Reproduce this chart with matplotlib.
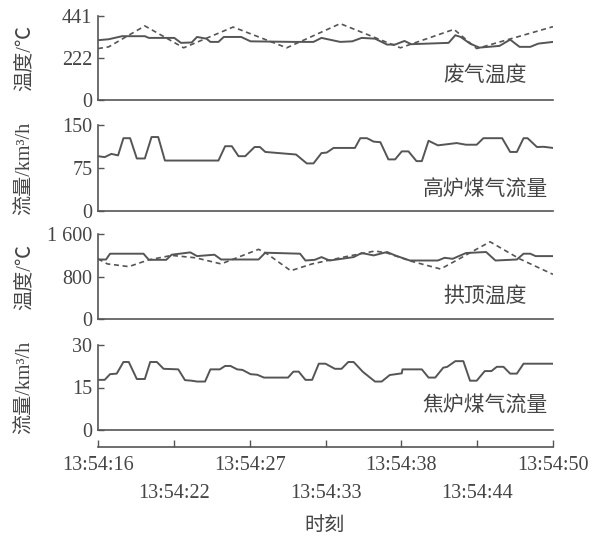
import matplotlib
matplotlib.use("Agg")
import matplotlib.pyplot as plt
import numpy as np
from matplotlib.transforms import blended_transform_factory

# time axis (seconds after 13:54:16) and tick labels
time_labels = ["13:54:16", "13:54:22", "13:54:27", "13:54:33", "13:54:38", "13:54:44", "13:54:50"]
t_end = 34.0

# 废气温度: measured (solid) and model (dashed)
waste_t = [0, 0.8, 1.8, 3.5, 3.8, 5.7, 6.2, 7.0, 7.4, 8.1, 8.4, 9.0, 9.4, 10.7, 11.4, 14.7,
           16.1, 16.7, 18.1, 19.0, 19.7, 20.7, 21.6, 22.2, 22.9, 23.4, 26.2, 26.7, 27.1, 27.8,
           28.5, 30.0, 30.8, 31.5, 32.3, 32.9, 34.0]
waste_v = [314, 319, 335, 335, 326, 326, 300, 302, 331, 322, 305, 305, 331, 331, 308, 305,
           305, 326, 305, 308, 326, 322, 291, 291, 310, 293, 300, 340, 331, 296,
           275, 284, 317, 279, 279, 296, 305]
waste_pred_t = [0, 0.8, 3.5, 6.4, 10.1, 14.1, 18.1, 22.6, 26.6, 28.3, 34.0]
waste_pred_v = [270, 279, 389, 274, 383, 274, 401, 274, 371, 270, 385]

# 高炉煤气流量
bfg_t = [0, 0.5, 1.0, 1.5, 1.9, 2.4, 2.9, 3.5, 4.0, 4.5, 5.0, 9.0, 9.5, 10.0, 10.5, 11.0,
         11.7, 12.1, 12.5, 14.8, 15.6, 16.1, 16.7, 17.1, 17.6, 19.2, 19.6, 20.1, 20.6, 21.1,
         21.7, 22.2, 22.7, 23.2, 23.8, 24.2, 24.7, 25.4, 26.8, 27.5, 28.3, 28.8, 30.2, 30.8,
         31.3, 31.8, 32.1, 32.8, 33.3, 34.0]
bfg_v = [95.6, 94, 99.6, 97, 127, 127, 91.6, 91.6, 129, 129, 88, 88, 113, 113, 95.6, 95.6,
         111.6, 111.6, 103, 98.5, 83, 83, 101, 102, 110, 110, 127, 127, 121, 120,
         90, 90, 104, 104, 87, 87, 122.5, 114.5, 118.5, 115.6, 115.6, 127, 127, 103,
         103, 127, 127, 111.6, 112, 110]

# 拱顶温度: measured (solid) and model (dashed)
dome_t = [0, 0.6, 0.9, 3.4, 3.8, 5.1, 5.5, 6.9, 7.4, 8.7, 9.2, 12.0, 12.5, 15.1, 15.5, 16.2,
          16.7, 17.3, 19.1, 19.7, 20.6, 21.6, 22.2, 23.3, 25.4, 25.9, 26.5, 27.5, 29.0, 29.7,
          31.3, 31.8, 32.3, 32.7, 34.0]
dome_v = [1120, 1120, 1229, 1229, 1114, 1114, 1210, 1254, 1184, 1210, 1120, 1120, 1248, 1229,
          1101, 1114, 1165, 1101, 1165, 1242, 1197, 1261, 1197, 1101, 1101, 1152, 1133, 1242,
          1261, 1101, 1120, 1229, 1229, 1184, 1184]
dome_pred_t = [0, 0.7, 2.3, 3.8, 5.5, 7.3, 9.2, 10.5, 12.0, 12.7, 14.4, 16.0, 18.6, 20.7,
               21.6, 23.4, 25.6, 27.0, 27.9, 29.3, 31.5, 34.0]
dome_pred_v = [1133, 1037, 986, 1114, 1197, 1152, 1037, 1165, 1312, 1216, 909, 1037, 1178,
               1280, 1242, 1088, 941, 1133, 1261, 1453, 1133, 840]

# 焦炉煤气流量
cog_t = [0, 0.5, 0.9, 1.4, 1.9, 2.3, 2.9, 3.5, 3.9, 4.4, 4.9, 6.0, 6.5, 7.0, 7.4, 8.0,
         8.4, 9.1, 9.5, 9.9, 10.4, 10.8, 11.4, 11.9, 12.4, 14.2, 14.6, 15.0, 15.5, 16.0,
         16.5, 17.0, 17.7, 18.2, 18.7, 19.1, 19.8, 20.7, 21.2, 21.8, 22.7, 22.75, 24.2, 24.7,
         25.2, 25.8, 26.1, 26.7, 27.3, 27.8, 28.3, 28.9, 29.4, 29.8, 30.3, 30.8, 31.3, 31.8,
         34.0]
cog_v = [17.7, 17.7, 19.7, 19.9, 24.0, 24.0, 18.0, 18.0, 24.0, 24.0, 21.6, 21.4, 17.6, 17.4,
         17.1, 17.1, 21.4, 21.4, 22.6, 22.6, 21.4, 21.2, 19.7, 19.5, 18.5, 18.5, 20.6, 20.6,
         17.7, 17.7, 23.4, 23.4, 21.6, 21.6, 24.0, 24.0, 20.5, 17.1, 17.1, 19.4, 20.0, 21.4,
         21.4, 18.5, 18.5, 22.0, 22.3, 24.3, 24.3, 17.4, 17.4, 20.8, 20.8, 22.3, 22.3, 19.9,
         19.9, 23.4, 23.4]

panels = [
    dict(t=waste_t, v=waste_v, pt=waste_pred_t, pv=waste_pred_v, ymax=441,
         ticks=[0, 222, 441], tlabels=["0", "222", "441"], name="废气温度", ylab="温度/℃"),
    dict(t=bfg_t, v=bfg_v, pt=None, pv=None, ymax=150,
         ticks=[0, 75, 150], tlabels=["0", "75", "150"], name="高炉煤气流量", ylab="流量/km³/h"),
    dict(t=dome_t, v=dome_v, pt=dome_pred_t, pv=dome_pred_v, ymax=1600,
         ticks=[0, 800, 1600], tlabels=["0", "800", "1 600"], name="拱顶温度", ylab="温度/℃"),
    dict(t=cog_t, v=cog_v, pt=None, pv=None, ymax=30,
         ticks=[0, 15, 30], tlabels=["0", "15", "30"], name="焦炉煤气流量", ylab="流量/km³/h"),
]

W, H = 593, 543
LINE = "#555555"
TEXT = "#454545"
SERIF = ["Liberation Serif", "Noto Sans CJK SC"]
CJK = ["Noto Sans CJK SC", "Liberation Serif"]

fig = plt.figure(figsize=(W / 100, H / 100), dpi=100)

left, right = 98 / W, 553 / W
# (top, bottom) of each panel in pixels
boxes = [(16, 100), (125, 211), (234, 319), (345, 430)]
label_y = [75, 190, 296, 406]

for p, (top, bot), ly in zip(panels, boxes, label_y):
    ax = fig.add_axes([left, 1 - bot / H, right - left, (bot - top) / H])
    ax.plot(p["t"], p["v"], color=LINE, lw=1.4)
    if p["pt"] is not None:
        ax.plot(p["pt"], p["pv"], color=LINE, lw=1.2, linestyle=(0, (3, 2.2)))
    ax.set_xlim(0, t_end)
    ax.set_ylim(0, p["ymax"])
    ax.set_yticks(p["ticks"])
    ax.set_yticklabels(p["tlabels"], family=SERIF, fontsize=14.5, color=TEXT)
    ax.set_xticks([])
    ax.tick_params(axis="y", direction="in", length=4, width=1, color=LINE, pad=4)
    for s in ("top", "right"):
        ax.spines[s].set_visible(False)
    for s in ("left", "bottom"):
        ax.spines[s].set_color(LINE)
        ax.spines[s].set_linewidth(1.2)
    ax.patch.set_alpha(0)
    fig.text(485 / W, 1 - ly / H, p["name"], family=CJK, fontsize=15, color=TEXT,
             ha="center", va="center")
    fig.text(25 / W, 1 - (top + bot) / 2 / H, p["ylab"], family=SERIF, fontsize=14.5,
             color=TEXT, rotation=90, ha="center", va="center")

# separate time axis
axt = fig.add_axes([left, 1 - 447 / H, right - left, 0.0001])
axt.set_xlim(0, t_end)
axt.set_yticks([])
tick_pos = np.linspace(0, t_end, len(time_labels))
axt.set_xticks(tick_pos)
axt.set_xticklabels([])
axt.tick_params(axis="x", direction="in", length=5, width=1, color=LINE)
for s in ("top", "right", "left"):
    axt.spines[s].set_visible(False)
axt.spines["bottom"].set_color(LINE)
axt.spines["bottom"].set_linewidth(1.2)
axt.patch.set_alpha(0)

trans = blended_transform_factory(axt.transData, fig.transFigure)
for i, (x, lab) in enumerate(zip(tick_pos, time_labels)):
    y = 466 if i % 2 == 0 else 493
    axt.text(x, 1 - y / H, lab, transform=trans, family=SERIF, fontsize=14.5, color=TEXT,
             ha="center", va="center")

fig.text(325 / W, 1 - 525 / H, "时刻", family=CJK, fontsize=14.5, color=TEXT,
         ha="center", va="center")

fig.savefig("out.png", dpi=100)
